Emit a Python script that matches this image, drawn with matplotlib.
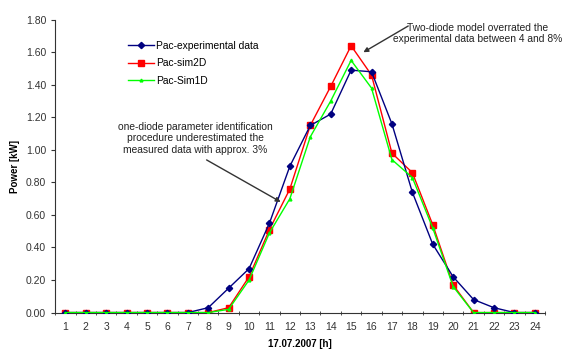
import numpy as np
import matplotlib.pyplot as plt

plt.rcParams['font.family'] = ['Liberation Sans', 'DejaVu Sans']

hours = np.arange(1, 25)
pac_exp = [0, 0, 0, 0, 0, 0, 0, 0.03, 0.15, 0.27, 0.55, 0.90, 1.15, 1.22,
           1.49, 1.48, 1.16, 0.74, 0.42, 0.22, 0.08, 0.03, 0, 0]
pac_sim2d = [0, 0, 0, 0, 0, 0, 0, 0, 0.03, 0.22, 0.51, 0.76, 1.15, 1.39,
             1.64, 1.46, 0.98, 0.86, 0.54, 0.17, 0, 0, 0, 0]
pac_sim1d = [0, 0, 0, 0, 0, 0, 0, 0, 0.02, 0.20, 0.49, 0.70, 1.08, 1.30,
             1.55, 1.38, 0.94, 0.83, 0.52, 0.16, 0, 0, 0, 0]
yticks = np.arange(0, 1.81, 0.2)

fig = plt.figure(figsize=(5.63, 3.52), dpi=100)
ax = fig.add_axes([0.098, 0.112, 0.87, 0.832])

ax.plot(hours, pac_exp, color='#000080', lw=1, marker='D', ms=3.2, label='Pac-experimental data', zorder=3)
ax.plot(hours, pac_sim2d, color='#ff0000', lw=1, marker='s', ms=4, label='Pac-sim2D', zorder=2)
ax.plot(hours, pac_sim1d, color='#00ff00', lw=1, marker='^', ms=2, label='Pac-Sim1D', zorder=4)

ax.set_xlim(0.5, 24.5)
ax.set_ylim(0, 1.8)
ax.set_xticks(hours)
ax.set_xticklabels([str(h) for h in hours])
ax.set_xticks(np.arange(0.5, 25, 1), minor=True)
ax.tick_params(axis='x', which='major', length=0, labelsize=7.5, colors='#333333', pad=7)
ax.tick_params(axis='x', which='minor', length=3, direction='inout', color='#333333')
ax.set_yticks(yticks)
ax.set_yticklabels(['%.2f' % v for v in yticks])
ax.tick_params(axis='y', length=3, labelsize=7.5, colors='#333333', direction='out')
for s in ['top', 'right']:
    ax.spines[s].set_visible(False)
for s in ['left', 'bottom']:
    ax.spines[s].set_color('#333333')

ax.set_xlabel('17.07.2007 [h]', fontsize=7, fontweight='bold', labelpad=5)
ax.set_ylabel('Power [kW]', fontsize=7, fontweight='bold', labelpad=4)

ax.legend(loc='upper left', bbox_to_anchor=(0.13, 0.96), frameon=False, fontsize=7.4,
          handlelength=2.5, handletextpad=0.2, labelspacing=0.75)

ax.annotate('one-diode parameter identification\nprocedure underestimated the\nmeasured data with approx. 3%',
            xy=(11.55, 0.68), xytext=(7.35, 1.07), fontsize=7.4, ha='center', va='center',
            color='#222222', arrowprops=dict(arrowstyle='-|>', color='#333333', lw=1,
                                             shrinkA=3, shrinkB=0, mutation_scale=7,
                                             relpos=(0.52, 0)))
ax.annotate('Two-diode model overrated the\nexperimental data between 4 and 8%',
            xy=(15.6, 1.60), xytext=(21.2, 1.715), fontsize=7.4, ha='center', va='center',
            color='#222222', arrowprops=dict(arrowstyle='-|>', color='#333333', lw=1,
                                             shrinkA=0, shrinkB=0, mutation_scale=7,
                                             patchA=None, relpos=(0.09, 0.85)))

fig.savefig('out.png', dpi=100)
